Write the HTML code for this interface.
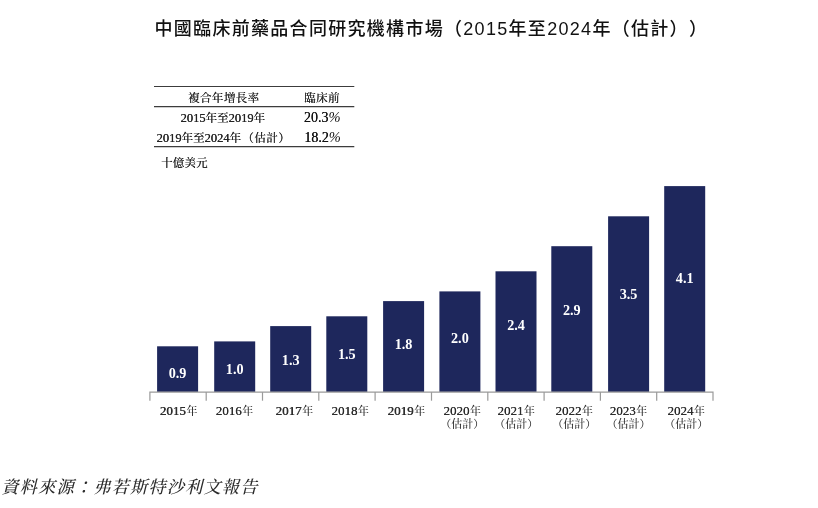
<!DOCTYPE html>
<html lang="zh-Hant"><head><meta charset="utf-8"><title>中國臨床前藥品合同研究機構市場</title>
<style>
html,body{margin:0;padding:0;background:#fff;}
body{width:818px;height:508px;position:relative;overflow:hidden;color:#1a1a1a;
 font-family:"Liberation Serif","Noto Serif CJK SC",serif;}
.abs{position:absolute;white-space:nowrap;}
.title{left:154.5px;top:15.5px;font-family:"Liberation Sans","Noto Sans CJK TC",sans-serif;font-weight:500;text-spacing-trim:space-all;font-size:18px;letter-spacing:1.3px;line-height:26px;color:#111;}
svg{position:absolute;left:0;top:0;}
.val{position:absolute;width:41px;text-align:center;color:#fff;font-weight:bold;font-size:14.2px;line-height:14px;height:14px;}
.yl{position:absolute;width:70px;text-align:center;font-weight:500;font-size:11px;line-height:12.5px;color:#2c2c2c;text-spacing-trim:space-all;}
.yl .n{font-size:12.8px;font-weight:normal;letter-spacing:0.1px;text-shadow:0.35px 0 0 #222;margin-right:0.6px;}
.t{font-size:11.5px;line-height:14px;color:#222;text-spacing-trim:space-all;text-shadow:0.2px 0 0 #222;}
.t .n{font-size:12.5px;}
.ctr{transform:translateX(-50%);}
.pct{font-size:14px;line-height:16px;color:#111;text-shadow:0.2px 0 0 #222;}
.pct i{font-size:14.5px;text-shadow:none;}
.e{letter-spacing:0.5px;margin-left:1.2px;}
.src{left:1.3px;top:475.5px;font-size:17.3px;letter-spacing:1.1px;font-style:italic;font-weight:500;line-height:24px;color:#2a2a2a;}
</style></head><body>
<div class="abs title">中國臨床前藥品合同研究機構市場（2015年至2024年（估計））</div>

<svg width="818" height="508" viewBox="0 0 818 508">
<line x1="154" x2="354.3" y1="86.5" y2="86.5" stroke="#3c3c3c" stroke-width="1.1"/>
<line x1="154" x2="354.3" y1="106.6" y2="106.6" stroke="#3c3c3c" stroke-width="1.1"/>
<line x1="154" x2="354.3" y1="146.6" y2="146.6" stroke="#3c3c3c" stroke-width="1.1"/>
<rect x="157.1" y="346.3" width="41" height="45.6" fill="#1e275c"/>
<rect x="214.2" y="341.4" width="41" height="50.5" fill="#1e275c"/>
<rect x="270.2" y="326.1" width="41" height="65.8" fill="#1e275c"/>
<rect x="326.3" y="316.3" width="41" height="75.6" fill="#1e275c"/>
<rect x="383.1" y="301.1" width="41" height="90.8" fill="#1e275c"/>
<rect x="439.4" y="291.4" width="41" height="100.5" fill="#1e275c"/>
<rect x="495.5" y="271.3" width="41" height="120.6" fill="#1e275c"/>
<rect x="551.3" y="246.2" width="41" height="145.7" fill="#1e275c"/>
<rect x="608.1" y="216.3" width="41" height="175.6" fill="#1e275c"/>
<rect x="664.2" y="186.1" width="41" height="205.8" fill="#1e275c"/>
<path d="M149.9 400.7 V392.1 H713.0 V400.7" fill="none" stroke="#9a9a9a" stroke-width="1.2"/>
<line x1="206.2" x2="206.2" y1="392.1" y2="400.7" stroke="#9a9a9a" stroke-width="1.2"/>
<line x1="262.5" x2="262.5" y1="392.1" y2="400.7" stroke="#9a9a9a" stroke-width="1.2"/>
<line x1="318.8" x2="318.8" y1="392.1" y2="400.7" stroke="#9a9a9a" stroke-width="1.2"/>
<line x1="375.1" x2="375.1" y1="392.1" y2="400.7" stroke="#9a9a9a" stroke-width="1.2"/>
<line x1="431.5" x2="431.5" y1="392.1" y2="400.7" stroke="#9a9a9a" stroke-width="1.2"/>
<line x1="487.8" x2="487.8" y1="392.1" y2="400.7" stroke="#9a9a9a" stroke-width="1.2"/>
<line x1="544.1" x2="544.1" y1="392.1" y2="400.7" stroke="#9a9a9a" stroke-width="1.2"/>
<line x1="600.4" x2="600.4" y1="392.1" y2="400.7" stroke="#9a9a9a" stroke-width="1.2"/>
<line x1="656.7" x2="656.7" y1="392.1" y2="400.7" stroke="#9a9a9a" stroke-width="1.2"/>
</svg>
<div class="abs t ctr" style="left:223.7px;top:91px;letter-spacing:0.4px">複合年增長率</div>
<div class="abs t ctr" style="left:322px;top:91px;letter-spacing:0.4px">臨床前</div>
<div class="abs t" style="left:180.6px;top:110.5px"><span class="n">2015</span>年至<span class="n">2019</span>年</div>
<div class="abs pct ctr" style="left:322.2px;top:109px">20.3<i>%</i></div>
<div class="abs t" style="left:156.6px;top:130.5px"><span class="n">2019</span>年至<span class="n">2024</span>年<span class="e">（估計）</span></div>
<div class="abs pct ctr" style="left:322.5px;top:129px">18.2<i>%</i></div>
<div class="abs t" style="left:161px;top:155.7px;letter-spacing:0.2px">十億美元</div>
<div class="val" style="left:157.1px;top:365.8px">0.9</div>
<div class="val" style="left:214.2px;top:361.5px">1.0</div>
<div class="val" style="left:270.2px;top:352.6px">1.3</div>
<div class="val" style="left:326.3px;top:346.6px">1.5</div>
<div class="val" style="left:383.1px;top:336.8px">1.8</div>
<div class="val" style="left:439.4px;top:331.3px">2.0</div>
<div class="val" style="left:495.5px;top:318.0px">2.4</div>
<div class="val" style="left:551.3px;top:302.6px">2.9</div>
<div class="val" style="left:608.1px;top:286.9px">3.5</div>
<div class="val" style="left:664.2px;top:271.0px">4.1</div>
<div class="yl" style="left:143.6px;top:405.3px"><span class="n">2015</span>年</div>
<div class="yl" style="left:199.5px;top:405.3px"><span class="n">2016</span>年</div>
<div class="yl" style="left:259.4px;top:405.3px"><span class="n">2017</span>年</div>
<div class="yl" style="left:315.2px;top:405.3px"><span class="n">2018</span>年</div>
<div class="yl" style="left:371.4px;top:405.3px"><span class="n">2019</span>年</div>
<div class="yl" style="left:427.2px;top:405.3px"><span class="n">2020</span>年<br>（估計）</div>
<div class="yl" style="left:481.3px;top:405.3px"><span class="n">2021</span>年<br>（估計）</div>
<div class="yl" style="left:539.3px;top:405.3px"><span class="n">2022</span>年<br>（估計）</div>
<div class="yl" style="left:593.5px;top:405.3px"><span class="n">2023</span>年<br>（估計）</div>
<div class="yl" style="left:651.2px;top:405.3px"><span class="n">2024</span>年<br>（估計）</div>
<div class="abs src">資料來源：弗若斯特沙利文報告</div>
</body></html>
